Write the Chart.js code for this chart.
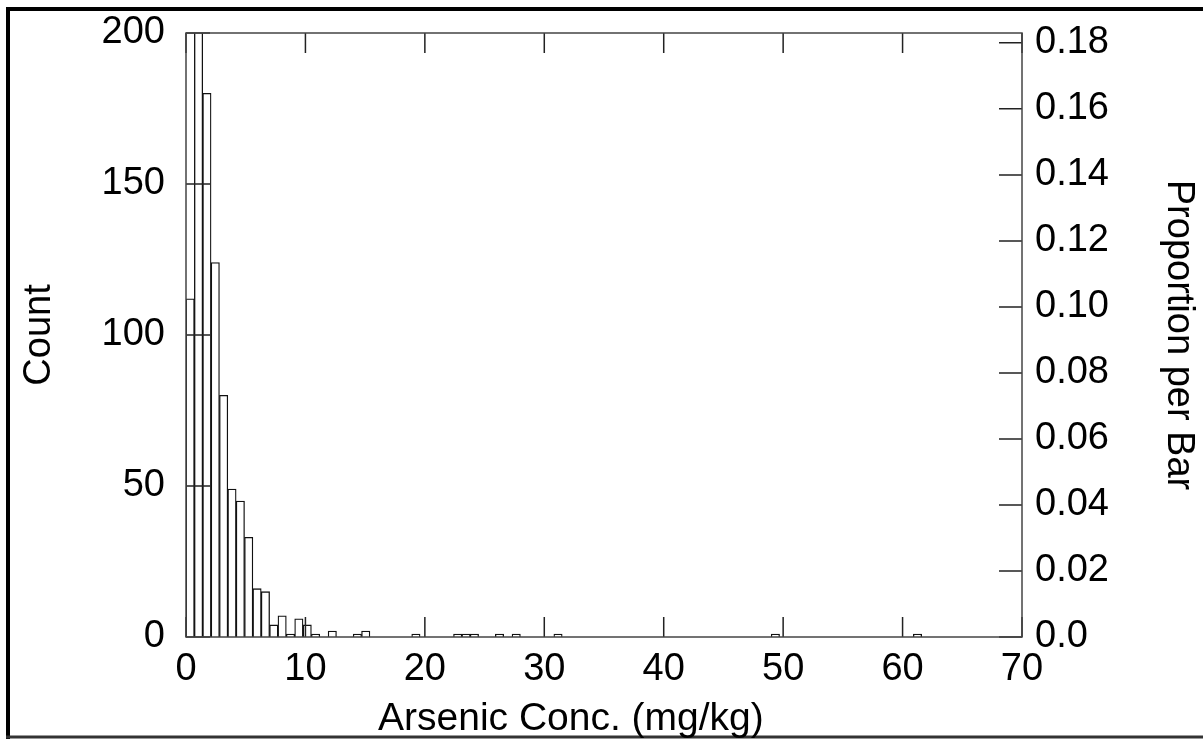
<!DOCTYPE html>
<html>
<head>
<meta charset="utf-8">
<script src="https://cdn.jsdelivr.net/npm/chart.js@4.4.1/dist/chart.umd.min.js"></script>
<style>
  html, body { margin: 0; padding: 0; background: #fff; }
  #wrap { width: 1203px; height: 739px; position: relative; }
</style>
</head>
<body>
<div id="wrap"><canvas id="histo"></canvas></div>
<script>
// histogram bins of 0.7 mg/kg from 0 to 70
const binWidth = 0.7;
const binCounts = [
  112, 402, 180, 124, 80, 49, 45, 33, 16, 15,
  4, 7, 1, 6, 4, 1, 0, 2, 0, 0,
  1, 2, 0, 0, 0, 0, 0, 1, 0, 0,
  0, 0, 1, 1, 1, 0, 0, 1, 0, 1,
  0, 0, 0, 0, 1, 0, 0, 0, 0, 0,
  0, 0, 0, 0, 0, 0, 0, 0, 0, 0,
  0, 0, 0, 0, 0, 0, 0, 0, 0, 0,
  1, 0, 0, 0, 0, 0, 0, 0, 0, 0,
  0, 0, 0, 0, 0, 0, 0, 1, 0, 0,
  0, 0, 0, 0, 0, 0, 0, 0, 0, 0
];
const xTitle = 'Arsenic Conc. (mg/kg)';
const yTitle = 'Count';
const y2Title = 'Proportion per Bar';

const totalCount = binCounts.reduce((a, b) => a + b, 0);
const FONT = '"Liberation Sans", Arial, sans-serif';
const tickFont = { size: 38, family: FONT, lineHeight: 1.2 };

// vertical scales would otherwise push the plot down by half a label + padding
const noVertPad = s => { s.paddingTop = 0; s.paddingBottom = 0; };

const frame = {
  id: 'frame',
  beforeDraw(chart) {
    const { ctx, width, height } = chart;
    ctx.save();
    ctx.fillStyle = '#fff';
    ctx.fillRect(0, 0, width, height);
    ctx.strokeStyle = '#000';
    ctx.lineWidth = 4;
    ctx.beginPath();
    ctx.moveTo(8, height + 2);
    ctx.lineTo(8, 9);
    ctx.lineTo(width + 2, 9);
    ctx.stroke();
    ctx.lineWidth = 3;
    ctx.strokeStyle = '#333';
    ctx.beginPath();
    ctx.moveTo(6, height - 2);
    ctx.lineTo(width, height - 2);
    ctx.stroke();
    ctx.restore();
  },
  afterDraw(chart) {
    const { ctx, chartArea: a, scales } = chart;
    ctx.save();
    ctx.strokeStyle = '#222';
    ctx.lineWidth = 1.5;
    ctx.beginPath();
    scales.x.ticks.forEach(t => {
      const px = scales.x.getPixelForValue(t.value);
      ctx.moveTo(px, a.bottom); ctx.lineTo(px, a.bottom - 20);
      ctx.moveTo(px, a.top); ctx.lineTo(px, a.top + 20);
    });
    scales.y.ticks.forEach(t => {
      const py = scales.y.getPixelForValue(t.value);
      ctx.moveTo(a.left, py); ctx.lineTo(a.left + 24, py);
    });
    scales.y2.ticks.forEach(t => {
      const py = scales.y2.getPixelForValue(t.value);
      ctx.moveTo(a.right, py); ctx.lineTo(a.right - 23, py);
    });
    ctx.stroke();
    ctx.strokeStyle = '#444';
    ctx.strokeRect(a.left, a.top, a.right - a.left, a.bottom - a.top);

    // x axis title, sits left of centre in the original
    ctx.fillStyle = '#000';
    ctx.font = '39px ' + FONT;
    ctx.textAlign = 'left';
    ctx.textBaseline = 'alphabetic';
    ctx.fillText(xTitle, 378, 730);
    ctx.restore();
  }
};

new Chart(document.getElementById('histo'), {
  type: 'bar',
  data: {
    datasets: [{
      data: binCounts.map((c, i) => ({ x: (i + 0.5) * binWidth, y: c })),
      backgroundColor: '#fff',
      borderColor: '#111',
      borderWidth: 1.3,
      barPercentage: 1,
      categoryPercentage: 1,
      yAxisID: 'y'
    }]
  },
  options: {
    responsive: true,
    maintainAspectRatio: false,
    animation: false,
    layout: { padding: { top: 33, left: 0, right: 0, bottom: 0 } },
    plugins: { legend: { display: false }, tooltip: { enabled: false } },
    scales: {
      x: {
        type: 'linear',
        position: 'bottom',
        min: 0, max: 70,
        offset: false,
        grid: { display: false, drawTicks: false },
        border: { display: false },
        ticks: { stepSize: 10, padding: 10, color: '#000', font: tickFont },
        afterFit: s => { s.height = 102; }
      },
      y: {
        position: 'left',
        min: 0, max: 200,
        grid: { display: false, drawTicks: false },
        border: { display: false },
        ticks: { stepSize: 50, padding: 21, color: '#000', font: tickFont },
        title: { display: true, text: yTitle, color: '#000', padding: { top: 17, bottom: 0 }, font: { size: 38, family: FONT, lineHeight: 1.2 } },
        afterFit: s => { s.width = 186; noVertPad(s); }
      },
      y2: {
        position: 'right',
        min: 0, max: 200 / totalCount,
        grid: { display: false, drawTicks: false },
        border: { display: false },
        ticks: {
          stepSize: 0.02, includeBounds: false, padding: 13, color: '#000',
          font: tickFont,
          callback: v => v === 0 ? '0.0' : v.toFixed(2)
        },
        title: { display: true, text: y2Title, color: '#000', padding: { top: 2, bottom: 0 }, font: { size: 38, family: FONT, lineHeight: 1.2 } },
        afterFit: s => { s.width = 181; noVertPad(s); }
      }
    }
  },
  plugins: [frame]
});
</script>
</body>
</html>
